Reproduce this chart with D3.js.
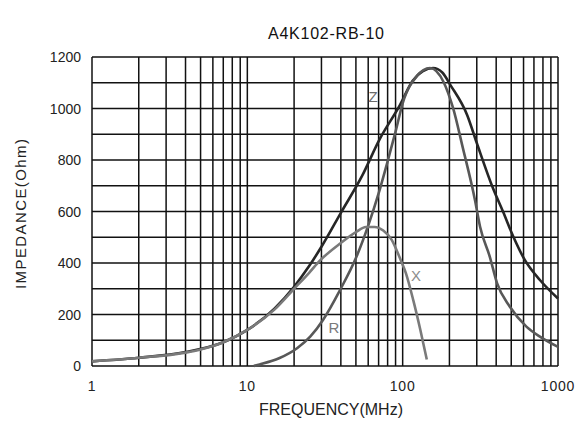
<!DOCTYPE html>
<html><head><meta charset="utf-8">
<script src="https://cdn.jsdelivr.net/npm/d3@7"></script>
<style>body{margin:0;background:#fff}svg{display:block}text{font-family:"Liberation Sans",Arial,sans-serif}</style>
</head><body>
<svg id="c" width="584" height="425"></svg>
<script>
const title = "A4K102-RB-10";
const xTicks = [1, 10, 100, 1000];
const yTicks = [0, 200, 400, 600, 800, 1000, 1200];

const zFreq = [1, 2, 4, 7, 10, 15, 20, 25, 30, 40, 55, 71, 96, 116, 135, 157, 180, 203, 260, 300, 381, 443, 516, 611, 765, 1000];
const zVal  = [18, 32, 54, 92, 140, 224, 308, 388, 463, 595, 740, 880, 1013, 1108, 1145, 1157, 1140, 1091, 975, 866, 691, 599, 502, 412, 334, 262];

const xFreq = [1, 2, 4, 5, 7, 10, 15, 20, 25, 29.4, 40, 50, 58, 66, 75, 85, 96, 105, 117, 130, 143];
const xVal  = [18, 32, 52, 64, 92, 140, 220, 300, 362, 410, 478, 520, 540, 540, 526, 490, 419, 360, 256, 140, 25];

const rFreq = [11, 12, 16, 21, 25.4, 30.7, 39.5, 50, 60, 70, 80, 90, 100, 123, 150, 183, 211, 244, 292, 315, 364, 405, 490, 626, 765, 1000];
const rVal  = [0, 6, 30, 70, 114, 179, 295, 419, 545, 670, 795, 910, 1020, 1125, 1157, 1104, 1002, 847, 645, 541, 424, 322, 230, 153, 114, 74];

const series = [
  {name: "Z", f: zFreq, v: zVal, color: "#262626", label: [373, 97], lc: "#6a6a6a"},
  {name: "R", f: rFreq, v: rVal, color: "#585858", label: [334, 328], lc: "#7a7a7a"},
  {name: "X", f: xFreq, v: xVal, color: "#7a7a7a", label: [416, 276], lc: "#8c8c8c"}
];

const svg = d3.select("#c");
const L = 92, R = 558, T = 57, B = 366;
const x = d3.scaleLog().domain([1, 1000]).range([L, R]);
const y = d3.scaleLinear().domain([0, 1200]).range([B, T]);

// grid
const g = svg.append("g");
const vLines = [];
for (let d = 1; d < 1000; d *= 10) for (let k = 1; k <= 9; k++) vLines.push(d * k);
vLines.push(1000);
g.selectAll("line.v").data(vLines).join("line")
  .attr("x1", d => x(d)).attr("x2", d => x(d)).attr("y1", T).attr("y2", B)
  .attr("stroke", "#111").attr("stroke-width", 1.5);
g.selectAll("line.h").data(d3.range(0, 1201, 100)).join("line")
  .attr("x1", L).attr("x2", R).attr("y1", d => y(d)).attr("y2", d => y(d))
  .attr("stroke", "#111").attr("stroke-width", 1.5);

// curves
const line = d3.line().x(d => x(d[0])).y(d => y(d[1])).curve(d3.curveMonotoneX);
series.forEach(s => {
  svg.append("path").datum(s.f.map((f, i) => [f, s.v[i]]))
    .attr("d", line).attr("fill", "none").attr("stroke", s.color).attr("stroke-width", 2.6);
});
series.forEach(s => {
  svg.append("text").attr("x", s.label[0]).attr("y", s.label[1] + 5).attr("text-anchor", "middle")
    .attr("font-size", 15).attr("fill", s.lc).text(s.name);
});

// axes labels
svg.selectAll("text.yt").data(yTicks).join("text")
  .attr("x", 81).attr("y", d => y(d) + 5).attr("text-anchor", "end")
  .attr("font-size", 14).attr("fill", "#222").text(d => d);
svg.selectAll("text.xt").data(xTicks).join("text")
  .attr("x", d => x(d)).attr("y", 391).attr("text-anchor", "middle")
  .attr("font-size", 14).attr("letter-spacing", 0.8).attr("fill", "#222").text(d => d);

svg.append("text").attr("x", 326).attr("y", 39).attr("text-anchor", "middle")
  .attr("font-size", 16).attr("textLength", 116).attr("lengthAdjust", "spacing")
  .attr("fill", "#111").text(title);
svg.append("text").attr("x", 331).attr("y", 415).attr("text-anchor", "middle")
  .attr("font-size", 16).attr("fill", "#222").text("FREQUENCY(MHz)");
svg.append("text").attr("transform", "translate(26,214) rotate(-90)").attr("text-anchor", "middle")
  .attr("font-size", 15).attr("textLength", 150).attr("lengthAdjust", "spacing")
  .attr("fill", "#222").text("IMPEDANCE(Ohm)");
</script>
</body></html>
